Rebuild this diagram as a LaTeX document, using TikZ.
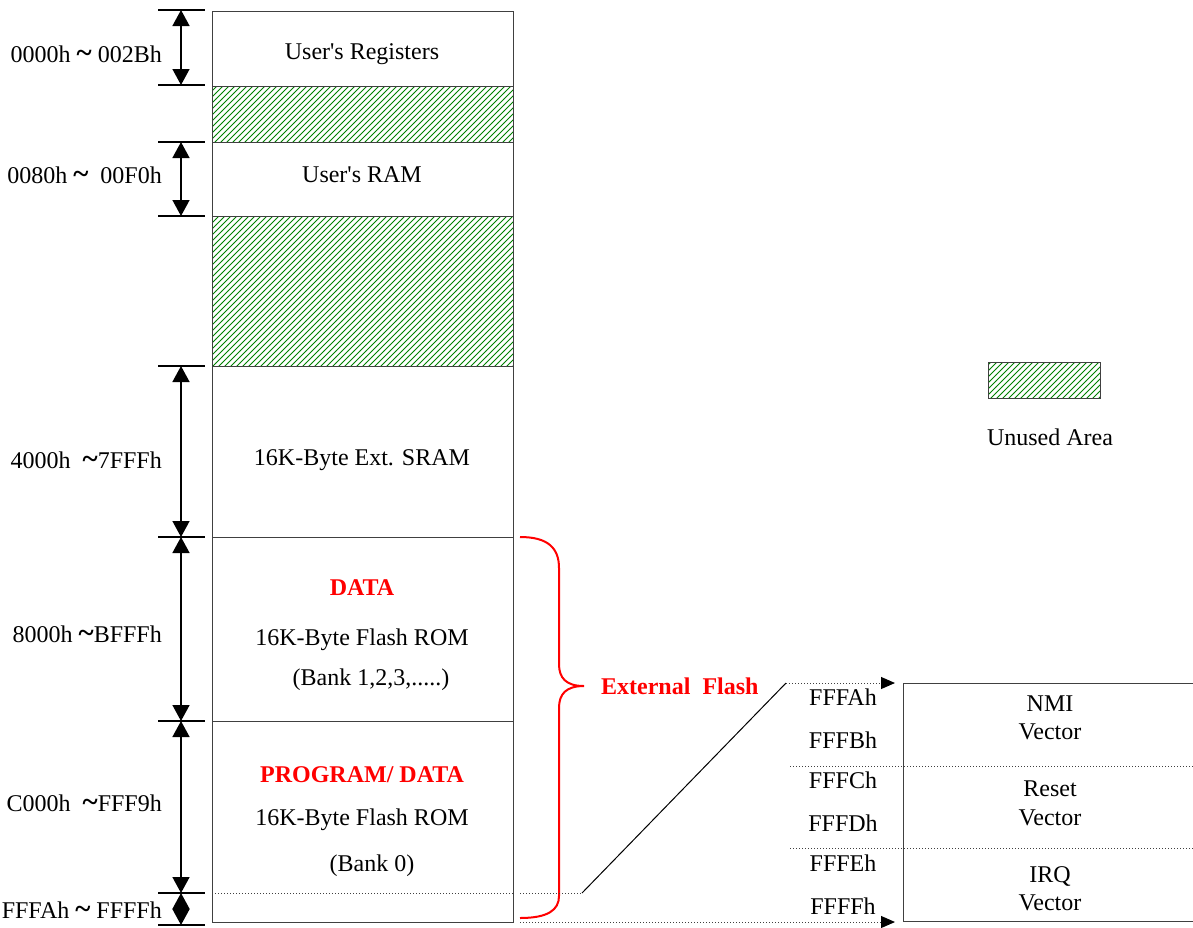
\documentclass[tikz,border=0pt]{standalone}
\usepackage{fontspec}
\setmainfont{Liberation Serif}
\usetikzlibrary{patterns,arrows.meta,positioning}
\definecolor{hatchgreen}{RGB}{0,128,0}
\definecolor{flashred}{RGB}{255,0,0}
\newcommand{\tld}{{\fontsize{14.5}{15}\selectfont\bfseries\textasciitilde}}
\newcommand{\apos}{\XeTeXglyph\XeTeXcharglyph"27\relax}
\begin{document}
\begin{tikzpicture}[x=0.5pt,y=-0.5pt,line width=0.5pt,font=\fontsize{12}{14}\selectfont,
  unused/.style={draw=black!75, pattern=north east lines, pattern color=hatchgreen},
  dim/.style={{Triangle[length=8pt,width=8.5pt]}-{Triangle[length=8pt,width=8.5pt]}, line width=0.75pt},
  dotline/.style={densely dotted, black!75},
  vecarrow/.style={dotline, -{Triangle[length=7pt,width=6pt,black]}},
  hot/.style={font=\fontsize{12}{14}\selectfont\bfseries, text=flashred}]
\useasboundingbox (0,0) rectangle (1193,927);

% memory column
\draw[unused] (212,86) rectangle (513,142);
\draw[unused] (212,216) rectangle (513,366);
\draw[black!75] (212,11) rectangle (513,922);
\foreach \y in {86,142,216,366,537,721}{
\draw[black!75] (212,\y) -- (513,\y);
}
\draw[dotline] (212,893) -- (513,893);

\node (regs) at (362,54) {User\apos s Registers};
\node (ram) at (362,175) {User\apos s RAM};
\node (sram) at (362,460) {16K-Byte Ext. SRAM};
\node[hot] (data) at (362,588) {DATA};
\node (romA) at (362,640) {16K-Byte Flash ROM};
\node (bankA) at (371,680) {(Bank 1,2,3,.....)};
\node[hot] (prog) at (362,775) {PROGRAM/ DATA};
\node (romB) at (362,820) {16K-Byte Flash ROM};
\node (bankB) at (372,866) {(Bank 0)};

% address ranges
\foreach \y [count=\i] in {10,85,142,216,366,537,721,893,925}{
\draw[line width=0.75pt] (158,\y) -- (205,\y);
\coordinate (t\i) at (181,\y);
}
\draw[dim] (t1) -- (t2);
\draw[dim] (t3) -- (t4);
\draw[dim] (t5) -- (t6);
\draw[dim] (t6) -- (t7);
\draw[dim] (t7) -- (t8);
\draw[dim] (t8) -- (t9);

\node[anchor=east] (adr1) at (169,54) {0000h \tld{} 002Bh};
\node[anchor=east] (adr2) at (169,175) {0080h \tld\ \ 00F0h};
\node[anchor=east] (adr3) at (169,460) {4000h\ \ \tld7FFFh};
\node[anchor=east] (adr4) at (169,634) {8000h \tld BFFFh};
\node[anchor=east] (adr5) at (169,803) {C000h\ \ \tld FFF9h};
\node[anchor=east] (adr6) at (169,910) {FFFAh \tld{} FFFFh};

% external flash brace
\draw[flashred, line width=1pt] (520,537) .. controls (548,537) and (559,548) .. (559,568) -- (559,664)
  .. controls (559,678) and (566,686) .. (584,686) .. controls (566,686) and (559,694) .. (559,708)
  -- (559,896) .. controls (559,910) and (548,918) .. (520,918);
\node[hot, anchor=west] (ext) at (594,686) {External\ \ Flash};

% vector table
\coordinate (p0) at (520,893);
\coordinate (p1) at (582,893);
\coordinate (p2) at (786,683);
\coordinate (vt) at (895,683);
\coordinate (q0) at (520,922);
\coordinate (vb) at (895,922);
\draw[dotline] (p0) -- (p1);
\draw (p1) -- (p2);
\draw[vecarrow] (p2) -- (vt);
\draw[vecarrow] (q0) -- (vb);

\draw[black!75] (1193,683) -- (903,683) -- (903,921) -- (1193,921);
\draw[dotline] (790,766) -- (1193,766);
\draw[dotline] (790,848) -- (1193,848);

\node (fa) at (843,697) {FFFAh};
\node (fb) at (843,740) {FFFBh};
\node (fc) at (843,780) {FFFCh};
\node (fd) at (843,823) {FFFDh};
\node (fe) at (843,863) {FFFEh};
\node (ff) at (843,906) {FFFFh};

\node (nmi) at (1050,704) {NMI};
\node (nmiv) at (1050,732) {Vector};
\node (rst) at (1050,789) {Reset};
\node (rstv) at (1050,818) {Vector};
\node (irq) at (1050,876) {IRQ};
\node (irqv) at (1050,903) {Vector};

% legend
\draw[unused] (988,362) rectangle (1100,398);
\node (key) at (1050,437) {Unused Area};
\end{tikzpicture}
\end{document}
